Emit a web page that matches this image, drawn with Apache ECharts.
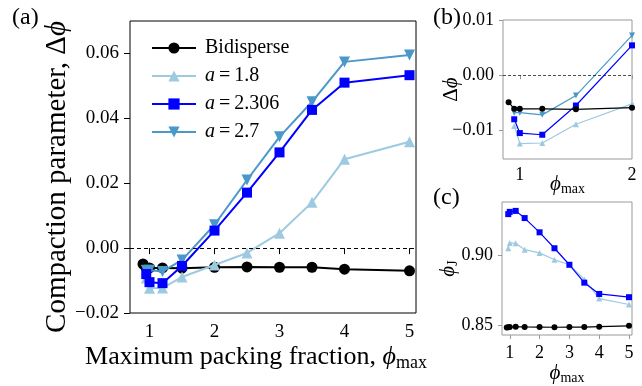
<!DOCTYPE html>
<html>
<head>
<meta charset="utf-8">
<script src="https://cdn.jsdelivr.net/npm/echarts@6/dist/echarts.min.js"></script>
<style>html,body{margin:0;padding:0;background:#fff;}#c{width:642px;height:386px;}</style>
</head>
<body>
<div id="c"></div>
<script>
// ---- data ----
var phiMaxBi = [0.9, 0.95, 1.0, 1.2, 1.5, 2, 2.5, 3, 3.5, 4, 5];
var phiMaxPoly = [0.95, 1.0, 1.2, 1.5, 2, 2.5, 3, 3.5, 4, 5];
var dPhiBi = [-0.0049, -0.0061, -0.0061, -0.0061, -0.0062, -0.0059, -0.0058, -0.0059, -0.0059, -0.0065, -0.0070];
var dPhi18 = [-0.0092, -0.0124, -0.0123, -0.0089, -0.0052, -0.0015, 0.0046, 0.0141, 0.0274, 0.0328];
var dPhi2306 = [-0.0080, -0.0105, -0.0108, -0.0055, 0.0054, 0.0171, 0.0295, 0.0426, 0.0510, 0.0533];
var dPhi27 = [-0.0068, -0.0068, -0.0072, -0.0037, 0.0072, 0.0210, 0.0343, 0.0451, 0.0574, 0.0595];
var phiJBi = [0.8486, 0.8487, 0.8488, 0.8490, 0.8489, 0.8488, 0.8487, 0.8488, 0.8488, 0.8491, 0.8497];
var phiJ18 = [0.9047, 0.9085, 0.9082, 0.9037, 0.9014, 0.8965, 0.8930, 0.8826, 0.8690, 0.8648];
var phiJ2306 = [0.9289, 0.9305, 0.9312, 0.9261, 0.9160, 0.9047, 0.8930, 0.8803, 0.8723, 0.8700];
var mainXTicks = [1, 2, 3, 4, 5];
var mainYTicks = [-0.02, 0.00, 0.02, 0.04, 0.06];
var bXTicks = [1, 2];
var bYTicks = [-0.01, 0.00, 0.01];
var cXTicks = [1, 2, 3, 4, 5];
var cYTicks = [0.85, 0.90];
var seriesNames = ['Bidisperse', 'a=1.8', 'a=2.306', 'a=2.7'];

var FONT = 'Liberation Serif';
var PHI = '\u03d5';
var colBi = '#000000', col18 = '#9ecae1', col2306 = '#0000ff', col27 = '#4a98c9';

function pairs(xs, ys) { return xs.map(function (x, i) { return [x, ys[i]]; }); }
function fmt2(v) { var s = v.toFixed(2); return s.replace('-', '\u2212'); }

var subRich = {
  i: { fontFamily: FONT, fontStyle: 'italic', fontSize: 26, color: '#000' },
  s: { fontFamily: FONT, fontSize: 18, color: '#000', padding: [11, 0, 0, 0] },
  n: { fontFamily: FONT, fontSize: 26, color: '#000' },
  iy: { fontFamily: FONT, fontStyle: 'italic', fontSize: 29, color: '#000' },
  ny: { fontFamily: FONT, fontSize: 29, color: '#000' },
  ii: { fontFamily: FONT, fontStyle: 'italic', fontSize: 21, color: '#000' },
  ss: { fontFamily: FONT, fontSize: 14, color: '#000', padding: [9, 0, 0, 0] },
  nn: { fontFamily: FONT, fontSize: 21, color: '#000' }
};

function xAx(gi, min, max, ticks, name, gap, spine, fs, tl, mg, pad) {
  return {
    type: 'value', gridIndex: gi, min: min, max: max,
    axisLine: { show: false },
    axisTick: { show: true, length: tl, lineStyle: { color: spine }, customValues: ticks },
    axisLabel: { customValues: ticks, fontFamily: FONT, fontSize: fs, color: '#000', margin: mg, formatter: function (v) { return String(v); } },
    splitLine: { show: false },
    name: name, nameLocation: 'middle', nameGap: gap, nameMoveOverlap: false,
    nameTextStyle: { fontFamily: FONT, fontSize: 22, color: '#000', rich: subRich, padding: pad || 0 }
  };
}
function yAx(gi, min, max, ticks, name, gap, spine, fs, tl, mg, pad) {
  return {
    type: 'value', gridIndex: gi, min: min, max: max,
    axisLine: { show: false },
    axisTick: { show: true, length: tl, lineStyle: { color: spine }, customValues: ticks },
    axisLabel: { customValues: ticks, fontFamily: FONT, fontSize: fs, color: '#000', margin: mg, formatter: fmt2 },
    splitLine: { show: false },
    name: name, nameLocation: 'middle', nameGap: gap, nameRotate: 90, nameMoveOverlap: false,
    nameTextStyle: { fontFamily: FONT, fontSize: 22, color: '#000', rich: subRich, padding: pad || 0 }
  };
}

function mkSeries(name, xi, data, color, sym, size, lw, rot, z) {
  var s = {
    name: name, type: 'line', xAxisIndex: xi, yAxisIndex: xi, data: data,
    symbol: sym, symbolSize: size, showSymbol: true,
    itemStyle: { color: color }, lineStyle: { color: color, width: lw },
    animation: false, z: z
  };
  if (rot) s.symbolRotate = rot;
  return s;
}

var series = [];
// main panel (a)
var s0 = mkSeries('Bidisperse', 0, pairs(phiMaxBi, dPhiBi), colBi, 'circle', 11, 2, 0, 2);
s0.markLine = { silent: true, symbol: 'none', label: { show: false },
  lineStyle: { color: '#000', type: [4, 3], width: 1 }, data: [{ yAxis: 0 }], animation: false };
series.push(s0);
series.push(mkSeries('a=1.8', 0, pairs(phiMaxPoly, dPhi18), col18, 'triangle', 11, 2, 0, 3));
series.push(mkSeries('a=2.7', 0, pairs(phiMaxPoly, dPhi27), col27, 'triangle', 11, 2, 180, 4));
series.push(mkSeries('a=2.306', 0, pairs(phiMaxPoly, dPhi2306), col2306, 'rect', 10, 2, 0, 5));
// inset (b)
var s1 = mkSeries('Bidisperse', 1, pairs(phiMaxBi, dPhiBi), colBi, 'circle', 6, 1.2, 0, 6);
s1.markLine = { silent: true, symbol: 'none', label: { show: false },
  lineStyle: { color: '#000', type: [3, 2], width: 0.7 }, data: [{ yAxis: 0 }], animation: false };
series.push(mkSeries('a=1.8', 1, pairs(phiMaxPoly, dPhi18), col18, 'triangle', 6, 1.2, 0, 3));
series.push(mkSeries('a=2.7', 1, pairs(phiMaxPoly, dPhi27), col27, 'triangle', 6, 1.2, 180, 4));
series.push(mkSeries('a=2.306', 1, pairs(phiMaxPoly, dPhi2306), col2306, 'rect', 6, 1.2, 0, 5));
series.push(s1);
// inset (c)
series.push(mkSeries('Bidisperse', 2, pairs(phiMaxBi, phiJBi), colBi, 'circle', 6, 1.2, 0, 3));
series.push(mkSeries('a=1.8', 2, pairs(phiMaxPoly, phiJ18), col18, 'triangle', 6, 1.2, 0, 4));
series.push(mkSeries('a=2.306', 2, pairs(phiMaxPoly, phiJ2306), col2306, 'rect', 6, 1.2, 0, 5));

var option = {
  backgroundColor: '#fff',
  animation: false,
  title: [
    { text: '(a)', left: 7, top: 1, textStyle: { fontFamily: FONT, fontSize: 24, fontWeight: 'normal', color: '#000' } },
    { text: '(b)', left: 428, top: 1, textStyle: { fontFamily: FONT, fontSize: 24, fontWeight: 'normal', color: '#000' } },
    { text: '(c)', left: 428, top: 181, textStyle: { fontFamily: FONT, fontSize: 24, fontWeight: 'normal', color: '#000' } }
  ],
  grid: [
    { left: 130, top: 21, width: 286, height: 292, show: true, borderColor: '#000', borderWidth: 1, backgroundColor: 'transparent' },
    { left: 503, top: 20, width: 129, height: 139, show: true, borderColor: '#999', borderWidth: 1, backgroundColor: 'transparent' },
    { left: 502, top: 202, width: 130, height: 134, show: true, borderColor: '#999', borderWidth: 1, backgroundColor: 'transparent' }
  ],
  xAxis: [
    xAx(0, 0.7, 5.1, mainXTicks, '{n|Maximum packing fraction, }{i|' + PHI + '}{s|max}', 30, '#000', 19, 6, 10, [0, 34, 0, 0]),
    xAx(1, 0.85, 2.0, bXTicks, '{ii|' + PHI + '}{ss|max}', 14, '#999', 18, 4, 7),
    xAx(2, 0.74, 5.1, cXTicks, '{ii|' + PHI + '}{ss|max}', 27, '#999', 18, 4, 9)
  ],
  yAxis: [
    yAx(0, -0.02, 0.07, mainYTicks, '{ny|Compaction parameter, \u0394}{iy|' + PHI + '}', 58, '#000', 19, 6, 11, [0, 20, 0, 0]),
    yAx(1, -0.0152, 0.01, bYTicks, '{nn|\u0394}{ii|' + PHI + '}', 41, '#999', 18, 4, 9),
    yAx(2, 0.8432, 0.9375, cYTicks, '{ii|' + PHI + '}{ss|J}', 42, '#999', 18, 4, 9)
  ],
  legend: {
    data: seriesNames, orient: 'vertical', left: 146, top: 33,
    itemWidth: 44, itemHeight: 14, itemGap: 8,
    textStyle: { fontFamily: FONT, fontSize: 20, color: '#000',
      rich: { g: { width: 4 }, i: { fontFamily: FONT, fontStyle: 'italic', fontSize: 20, color: '#000' }, t: { fontFamily: FONT, fontSize: 20, color: '#000' } } },
    formatter: function (n) { return n.charAt(0) === 'a' ? '{g|}{i|a}{t|\u2009=\u2009' + n.slice(2) + '}' : '{g|}{t|' + n + '}'; },
    selectedMode: false
  },
  series: series
};
var chart = echarts.init(document.getElementById('c'), null, { renderer: 'canvas' });
chart.setOption(option);
</script>
</body>
</html>
